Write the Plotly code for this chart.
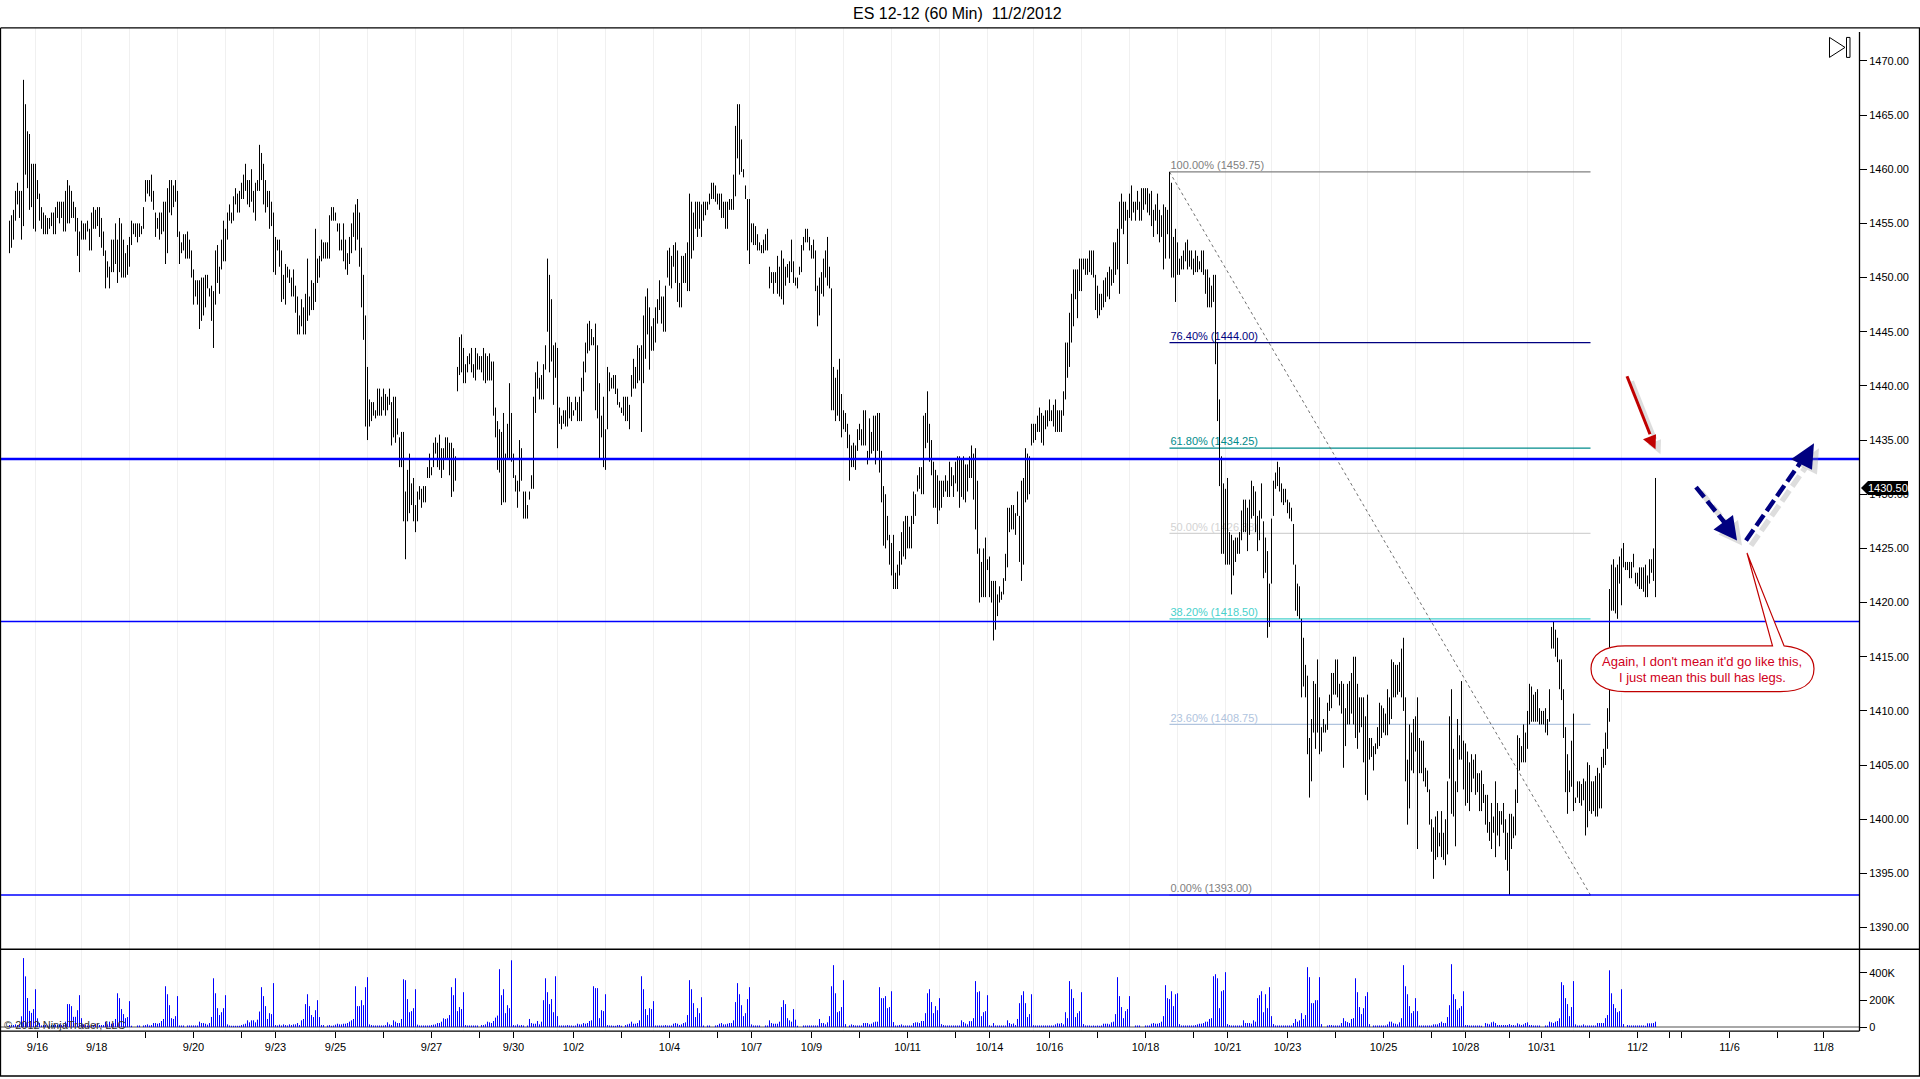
import plotly.graph_objects as go

# 60 minute bars in three stretches
start_a = 0
high_a = [1455.25,1455.75,1456.25,1458,1458.75,1458,1458,1468.25,1466,1463.5,1463.25,1460.5,
1460.5,1460.5,1459,1457.75,1456.5,1456,1455.75,1455.5,1455.5,1456,1456,1456.5,
1457,1457,1457,1457,1458,1459,1458.5,1458,1457,1456.5,1455.5,1454.25,
1455.25,1455,1455,1455.25,1454.5,1456,1456.5,1456.25,1456.5,1456.5,1455.5,1454.25,
1452.5,1451.5,1451,1453.5,1453.5,1455,1453.5,1455.5,1455,1453.5,1452.25,1453,
1453.75,1455.25,1455,1455,1455,1455,1454.75,1456.5,1459,1459,1459,1459.5,
1458,1456,1455.5,1456,1456,1457,1457,1458.25,1459,1459,1458.5,1459,1458,
1454.25,1453.25,1454,1454,1454.25,1453.5,1452.5,1450.75,1449.75,1449.75,1449.75,1450,
1450,1450.25,1450.25,1449,1449.25,1448.75,1452.5,1453,1451,1453.5,1455.25,1454.5,
1456,1456.75,1456,1457.5,1458.25,1457.75,1458,1458.75,1459.5,1460.5,1459,1459,
1460,1458,1458.75,1459,1462.25,1461.5,1460.5,1459,1458,1458,1457,1456,
1453.75,1453.5,1453.5,1452.5,1450.25,1451.25,1451,1450.75,1450,1450.75,1449.25,1448.25,
1446.5,1448,1447.25,1448.5,1451.75,1448.25,1449.75,1449.5,1454.5,1451.75,1452,1453.5,
1453.25,1453.25,1453.25,1455.75,1456.5,1456.5,1456,1455,1455,1453.5,1455,1453.5,
1452.25,1453.75,1455,1456,1456.75,1457.25,1456,1452.75,1450.25,1446.5,1441.75,1438.75,
1438.5,1438.5,1437.75,1439.75,1439.75,1439,1439.75,1439.25,1439,1439.75,1438.5,1439,
1439,1437,1435.25,1435.75,1435.75,1430.25,1432.25,1433.75,1431,1431.5,1429,1430.25,
1430.75,1430.5,1430.75,1430.75,1432.5,1433.75,1432.5,1434.75,1435.25,1434.75,1435.5,1434.25,1434.25,
1435.25,1435.25,1434.75,1434.75,1434.25,1433.5,1441.75,1444.5,1444.75,1443.5,1442,1442.75,
1443,1443.5,1442,1443.5,1443,1442.75,1442.75,1443.5,1443,1442.75,1443,1442.25,1442.25,
1438,1436.75,1436,1435.75,1437.5,1433.75,1436.5,1440.25,1437.5,1433.75,1431.75,1431.25,
1435,1434.25,1430.25,1430.25,1429,1430.25,1431.75,1439,1441.25,1442.25,1440.75,1441,
1442,1443.75,1451.75,1450.25,1448,1443.75,1444,1443.5,1438,1437.25,1437.75,1437.75,
1439,1439,1438.5,1437.75,1439,1438.5,1439,1440.75,1442.25,1444,1445.75,1446,
1445.25,1444.5,1445.75,1443.75,1440.25,1437.25,1439,1436,1441.75,1441.25,1440.75,1441,
1441,1439.75,1438.5,1438,1439,1439,1439,1438.25,1441,1442.5,1441.75,1443.75,1443.5]
low_a = [1452.25,1452.75,1453.5,1455.25,1456.75,1455.5,1453.5,1454.75,1459.5,1458.25,1456.25,1456.5,
1454.5,1454.25,1457.25,1455.25,1454.5,1454,1454,1454,1454.5,1454.75,1454,1454,
1455.5,1455,1455.5,1454.25,1454.25,1455,1455,1455.5,1455.5,1454.25,1452,1450.5,
1453.5,1453.5,1453.5,1454.25,1452.5,1452.5,1454.5,1454.5,1454.75,1453.75,1452.75,1452,
1449,1450,1449,1450.5,1450.5,1451.25,1449.5,1450.5,1450,1450,1450,1450.25,
1451,1453,1454,1453.75,1453.25,1453.75,1454,1454.5,1457,1457.75,1457.5,1457,
1456.25,1453.75,1454.5,1453.5,1454,1454.25,1451.25,1452.25,1456,1455.75,1456.5,1457,1453.75,
1451.25,1452.25,1452.5,1451.75,1451.75,1451.75,1450,1447.5,1448.25,1447.5,1445.25,1446,
1446.5,1447.25,1449,1448.25,1446,1443.5,1447.5,1449.5,1448.5,1450.75,1451.5,1451.5,
1453.5,1455.25,1455,1455.25,1456.75,1456,1456,1457.25,1457.25,1458,1456.75,1456.5,
1457,1456,1455.25,1458,1458,1459,1456.75,1456,1456.5,1454.5,1454.75,1450.5,
1450.25,1452.5,1451,1447.75,1448,1447.5,1450,1449.5,1448.25,1448.25,1446.75,1444.75,
1444.75,1445.5,1444.75,1444.75,1446,1446.5,1447,1447,1447.75,1449.5,1450,1451.5,
1451.75,1451.75,1451.75,1451.75,1455.25,1455.25,1455.25,1454.25,1452.5,1452.5,1451.5,1450.75,
1450.25,1451.25,1452.25,1453.75,1452.5,1453.5,1451,1447.25,1444.25,1436.25,1435,1436.25,
1436.75,1437.25,1437,1437.25,1437.25,1437.25,1437.75,1437.25,1437.75,1438.25,1434.5,1435.25,
1434.75,1435.5,1432.5,1432.5,1427.5,1424,1427.5,1428.25,1429,1427.5,1426.5,1427.5,
1429.5,1428.75,1429.25,1429.25,1431.5,1431.5,1431.75,1432.5,1433.75,1432.5,1432.25,1431.5,1432.25,
1433.25,1433.25,1431.75,1429.75,1430.25,1431.25,1439.5,1441,1441.25,1440.25,1440.25,1441.25,
1442,1441.25,1440.75,1440.5,1441.5,1441.5,1441.25,1440.5,1440.25,1440.5,1440.5,1440.5,1437.25,
1435.25,1432.25,1432,1429,1429.25,1429.25,1433.25,1433.25,1433,1431.5,1430.25,1428.75,
1430.25,1431.25,1427.75,1427.75,1427.75,1429.5,1430.5,1430.5,1437.5,1439.75,1438.75,1438.75,
1438.75,1441.5,1445,1441.25,1442.25,1438.25,1440.75,1434.25,1436.5,1436,1436.5,1436.25,
1436.25,1437,1436.75,1437.25,1437.75,1436.75,1436.75,1436.75,1439.5,1441.25,1443,1443.25,
1443.75,1443.75,1437.75,1437,1433.25,1435.25,1432.5,1432.25,1436,1439.5,1439.75,1439.75,
1439.25,1438.25,1438,1437.5,1437.25,1436.75,1436.75,1436,1439,1439.75,1439.75,1440.25,1440.5]

start_b = 316
high_b = [1443.75,1446.5,1448.25,1449,1447.25,1445.5,1446.25,1447.25,1448,1449.75,1448.25,1448.25,
1449.25,1452.5,1452.75,1452,1453,1453.25,1452.5,1449.5,1452,1452,1452.25,1453.25,
1457.75,1457,1456,1457,1457,1457,1456.75,1457,1457,1457,1457.75,1458.75,
1458.75,1458.5,1457.75,1457.75,1457.75,1457,1457,1457,1457.25,1457.25,1459.5,1464,
1466,1466,1462.75,1460,1458.5,1457.25,1457.25,1455,1455,1454.75,1454,1453.25,
1453,1453.5,1454,1454.5,1451,1450.5,1450.5,1450.5,1452,1451,1452.5,1451.75,
1451,1451.25,1451.5,1453.5,1451.5,1450,1450,1451,1453,1453.75,1454.5,1454.5,
1453.75,1453,1453.5,1452.5,1449.25,1450,1450.5,1451.75,1452.5,1453.75,1451,1449,
1441.75,1440.75,1441.5,1442.5,1439.25,1437.75,1437.5,1436.5,1435.5,1434.5,1434.75,1434.5,
1436,1436.5,1436,1437.75,1437.75,1434,1437,1435.75,1437.25,1437.25,1437.5,1437.5,
1434,1430.75,1430,1428,1426.25,1425.5,1426.25,1422.75,1423.5,1424.75,1426.5,1427.5,1428,
1428,1427,1428,1430.25,1430,1431.75,1432.5,1432.5,1437.25,1437.5,1439.5,1436.5,
1435,1433,1432.25,1431.75,1431.25,1431.25,1431.25,1431.75,1431.25,1433,1432.5,1431.75,
1433,1433.5,1433.5,1433.25,1433.5,1432.75,1432.75,1433.5,1434.5,1433.75,1434.25,1431.25,1425,
1423.75,1425,1426,1424,1424.25,1422,1422,1422,1420.75,1421.5,1421,1422.25,
1424.5,1428.75,1428.75,1429,1429,1428.25,1430.25,1428,1431.25,1431.5,1434.25,1433.75,
1433.5,1436.5,1436.5,1436.5,1437.25,1438,1437.5,1437.25,1437.75,1437.75,1438.75,1437.75,1438.25,
1438.75,1437.75,1437.75,1437.75,1439.5,1444,1444,1446.75,1448.5,1450.75,1450.75,1450.75,
1451.75,1451.75,1451.75,1451.75,1451.75,1452.5,1452.5,1452.5,1450.25,1449.25,1448.5,1448.5,
1449.75,1450,1450.5,1451,1450.75,1453.25,1453.25,1454.5,1457,1457.75,1457,1457,1456.25,
1457.75,1458.5,1457,1457,1458,1457,1458.25,1458.25,1458.25,1458.25,1457.75,1458,
1456.25,1456.75,1457.75,1456.25,1455.75,1456.75,1456.5,1456.25,1459.75,1458.75,1453.75,1454.5,
1453.25,1451.75,1452,1452.5,1453.25,1453.5,1452.5,1452.5,1451.75,1452.5,1452,1451.5,1452.5,
1452.5,1450.75,1450.75,1450,1449.25,1450.25,1450.25,1444,1438.75,1433.5,1431,1430.5,
1431.5,1426.5,1426.25,1425.75,1426,1426,1426.5,1428.5,1429.5,1429.5,1428.75,1429.5,1431.25,
1430.75,1430.25,1428,1428.5,1431,1427.5,1426,1424.75,1421.75,1427.75,1431.25,1432,
1433,1432.5]
low_b = [1435.75,1440.25,1442.5,1444.75,1441.5,1443.25,1443.25,1444,1445.75,1447,1445.75,1445,
1445,1450,1449.25,1449,1451,1449.5,1447.75,1447.25,1447.25,1449.5,1449.5,1448.75,
1448.75,1451.75,1452.5,1454.5,1453.75,1454.5,1453.75,1455.25,1455.75,1456.25,1456.75,1457.25,
1457.25,1457,1456.75,1456.25,1455.5,1455.5,1454.5,1454.5,1456.25,1456.25,1456.25,1457.5,
1461,1459.5,1459.75,1459.25,1457.25,1452.5,1451.25,1453.25,1453,1453,1452.5,1452.5,
1452.25,1452.25,1452.5,1452.5,1449,1449.5,1448.5,1449.5,1448.5,1448.25,1448,1447.5,
1449.25,1450,1449.5,1450.5,1449.5,1449.25,1449,1450.25,1450.5,1452.5,1453.25,1453.25,
1452.5,1451.75,1451.75,1448.75,1445.5,1446.5,1448.5,1448.25,1450,1449.25,1449,1437.75,
1437.75,1436.75,1437.25,1436.75,1435.25,1436,1435.75,1434.25,1431.25,1432.5,1432.5,1432.25,
1434,1435,1434.5,1434.5,1434.5,1432.75,1433.25,1433.75,1434,1432.75,1434,1432,
1429.25,1425.25,1425,1425.75,1423.5,1422.5,1421.25,1421.25,1421.25,1422.5,1423.5,1424.25,1424,
1425,1425,1425,1427.25,1428,1430.25,1430.5,1430,1430,1434.25,1434.75,1433,
1431.75,1428.75,1428.75,1427.25,1428.5,1428.75,1429.75,1430.25,1429.75,1429.75,1430.75,1429.75,
1431,1430.25,1428.75,1429.75,1429.5,1429.25,1430.25,1431.5,1431.5,1429.5,1426.75,1424.5,1420,
1420.5,1420.5,1420.5,1423,1420.5,1420,1416.5,1417.5,1418.75,1420,1420.25,1420.75,
1422,1423.25,1426.5,1426.75,1426.75,1426.25,1428,1423.75,1422,1423.5,1429.25,1429.5,
1430,1434.5,1434.75,1435,1435.75,1435.75,1434.75,1434.5,1436,1436.25,1436.75,1436.75,1436.25,
1435.75,1435.75,1435.75,1435.75,1437.25,1438.75,1440.75,1441.75,1444,1445.5,1448,1446.25,
1448.75,1448.75,1450.75,1450.25,1450.25,1450.5,1450.25,1450,1447,1446.25,1446.5,1447,
1447.25,1447.75,1448.25,1448,1449.25,1449.5,1450.25,1450.75,1448.5,1454.5,1454,1455.25,1451.25,
1455.5,1455.25,1456,1455.25,1456.25,1455.25,1455.25,1456.25,1456.75,1456,1455.75,1454.75,
1453.75,1455.25,1454,1453.25,1453.75,1450.75,1451.75,1454,1451.75,1450,1450,1447.75,
1450.25,1450.25,1450.75,1450.75,1451.5,1450.75,1451,1450.75,1450.25,1450.5,1450.5,1450.75,1450.5,
1450.25,1448.5,1447.25,1447.25,1447.25,1447.75,1442,1436.75,1430.75,1424.5,1424.5,1423.5,
1423.5,1423.5,1420.75,1422.5,1423.75,1424.5,1424.5,1425.75,1426.5,1426.5,1424.75,1426.25,1427.75,
1428,1426.5,1424.75,1425.75,1427.75,1422.25,1422.75,1416.75,1417.75,1421.75,1428,1430.5,
1430.75,1430.25]

start_c = 636
high_c = [1431,1430.5,1430.5,1429.5,1429.25,1428.75,1427.25,1423.5,1421.75,1421.5,1418.5,1416.75,
1414.25,1413.25,1407.5,1409.25,1412.75,1412.5,1414.75,1411.25,1408.5,1409.25,1408.75,1410.75,
1411.5,1413.5,1413.5,1414.75,1414.75,1412.5,1412.75,1412.5,1410.25,1412.5,1412.75,1413.5,
1415,1415,1412.5,1411.25,1411.25,1411.25,1409.5,1411.5,1407.5,1407.5,1406.75,1407,
1408.5,1410.75,1410.5,1410.25,1409.75,1412,1411.25,1414.75,1414.5,1414.25,1414.25,1414.5,1415.75,
1416.75,1411.25,1405.5,1408.75,1408,1409.25,1409.5,1411.25,1407.5,1407.25,1407.25,1404.75,
1404.5,1402.75,1400,1399.25,1400.25,1400.75,1398.75,1400.75,1398.75,1400,1403.5,1409.5,
1412,1406.5,1403.5,1409.25,1407.75,1412.75,1407.25,1407,1406.25,1405.25,1406,1405.5,1406,
1404.25,1404.25,1404.5,1403.25,1402.25,1402.25,1399.75,1401.5,1400.25,1403.5,1401.5,1400.75,
1400.75,1401.5,1400,1398.75,1400.5,1400.5,1400.25,1402.75,1407.75,1407.5,1406.75,1408.75,
1408,1410,1412.5,1412.25,1411.5,1411.75,1412,1410.25,1410,1410,1410.25,1409.25,1412,
1417.75,1418.25,1417.5,1416.75,1414.75,1414.75,1412,1408.5,1406,1404.5,1407.25,1409.75,
1402,1403.5,1403.5,1403.25,1403.75,1403.5,1405.25,1405,1403.5,1403.5,1404,1404.75,
1404.25,1405.75,1406.5,1408,1410.25,1421.25,1423.5,1424,1423.25,1423.5,1424.25,1425,
1425.5,1423.75,1423.75,1423.75,1423.75,1424.5,1422.75,1422.75,1423.25,1423.25,1423.25,1423.5,
1422.5,1424,1424,1425,1431.5]
low_c = [1429.25,1429,1429.25,1428.25,1427.75,1427.5,1423.5,1419.25,1418.75,1418.5,1411.25,1412.25,
1411.25,1406,1402,1403.5,1408,1406.5,1408,1406,1406.25,1408,1408,1408.25,
1410,1410.25,1411.5,1411.5,1411.25,1410.5,1409.75,1404.75,1406.75,1408.75,1408.75,1409.75,
1408.75,1407.5,1406.5,1408,1408.5,1405.25,1402.25,1401.75,1405.5,1405.75,1404.5,1406,
1406.5,1406.75,1407.5,1408,1407.75,1407.75,1408.75,1409.25,1411.25,1411.25,1411.5,1411.75,1411.25,
1410,1403.5,1399.5,1401,1404.5,1404.25,1406.25,1397.25,1404.25,1404.25,1403.5,1403,
1402.5,1399.5,1397,1394.5,1396.25,1396.5,1397.5,1396.5,1396.25,1395.75,1396.75,1403.75,
1400.5,1400.25,1397.5,1402.5,1405.5,1405.5,1402.75,1401.25,1401.5,1400.75,1402.5,1403.75,1402.25,
1402.5,1400.75,1400.75,1401.5,1399.5,1398.75,1398,1397.25,1398.75,1396.5,1398.5,1397.5,
1399.5,1398.75,1396.25,1395.25,1393,1397.25,1398.25,1398.5,1401.5,1404.5,1405.25,1405.25,
1405.25,1406.5,1408.75,1409,1409,1409,1409,1408.75,1408.75,1408.75,1408,1407.75,1409,
1415.75,1415.75,1415,1414.5,1412,1411,1407.5,1402.5,1400.5,1402.5,1403,1400.75,
1401.5,1402,1401.5,1401.25,1401.75,1398.5,1399.25,1400.75,1400.5,1400.75,1400.25,1400.25,
1401,1401,1404.75,1405,1406.5,1409,1419.25,1419.25,1419,1418.5,1421.75,1419.75,
1423.25,1423,1423,1422.25,1422.25,1423.25,1421.75,1421.5,1421.25,1421.25,1421,1420.5,
1420.5,1421.75,1422.75,1422,1420.5]

# volume per bar in thousands of contracts
vol_a = [15,15,15,20,15,20,80,510,375,215,120,105,133,280,65,30,
12,15,15,12,20,15,15,18,15,20,15,20,40,
170,170,155,76,76,125,236,66,
20,15,12,12,12,15,25,25,15,15,15,40,20,40,25,30,60,
250,214,133,96,66,74,192,10,
0,0,12,12,0,12,15,20,12,15,30,30,25,30,45,60,
302,243,162,66,60,81,229,12,
12,12,0,12,12,12,12,12,12,40,30,30,25,18,30,75,
361,250,140,89,110,140,236,20,
12,10,10,10,10,10,15,20,25,50,35,50,50,35,55,115,
295,229,155,60,103,96,325,15,
12,18,12,20,15,12,20,15,20,20,30,15,50,60,
170,243,155,89,74,125,199,74,
15,15,0,12,15,10,12,18,25,20,20,25,25,30,40,50,60,
302,155,155,199,162,295,369,20,
15,12,12,12,12,12,12,15,35,20,15,50,40,30,30,60,
354,347,207,110,118,140,280,18,
12,12,12,12,12,12,15,18,20,30,30,40,65,60,65,89,
295,236,361,118,148,133,258,15,
12,12,12,12,12,12,0,15,15,20,40,35,30,45,70,85,
428,236,280,103,162,140,494,15,
12,20,12,15,12,0,12,60,30,25,25,45,20,40,199,
361,258,170,207,110,376,81,
12,12,12,12,15,12,12,10,12,25,20,20,30,25,30,45,50,
302,288,288,66,125,118,243,15,
12,12,10,10,15,15,10,0,15,20,25,40,25,25,30,50]
vol_b = [376,280,133,89,140,133,192,12,12,12,12,12,15,12,12,12,25,30,25,15,20,30,35,89,
347,280,177,74,140,103,221,12,0,12,12,0,0,12,15,25,30,20,20,25,30,30,50,
185,325,243,162,81,103,207,295,20,12,12,12,12,0,0,12,12,50,30,25,25,25,40,
148,199,170,66,50,40,133,55,10,0,0,12,12,12,12,12,12,12,12,
60,30,30,20,35,81,302,458,250,110,118,148,347,22,
0,12,20,15,12,12,12,12,30,30,30,20,25,35,40,40,
295,214,214,229,140,148,265,37,12,12,15,20,12,12,12,12,12,30,35,35,30,45,45,
103,250,280,185,103,155,125,214,22,15,12,12,12,12,12,12,12,12,
50,37,27,20,44,44,66,340,258,265,81,110,118,236,14,10,30,12,12,12,12,12,12,
50,30,22,27,15,60,177,236,265,177,74,96,243,14,
12,12,12,12,12,12,12,12,12,12,20,28,25,30,20,110,66,340,280,214,74,103,118,258,22,12,
12,12,10,12,10,12,10,12,25,25,25,20,35,40,96,369,229,148,66,118,133,229,
0,0,12,12,12,0,0,12,12,12,25,30,25,25,30,40,81,310,214,207,265,155,243,250,22,
12,12,12,12,12,12,12,15,20,25,25,30,40,40,60,66,376,391,361,140,265,273,406,22,15,
12,12,12,12,12,12,50,30,30,30,25,50,40,214,236,265,110,243,140,295,81,22,12,12,12]
vol_c = [12,12,12,12,12,12,30,60,40,50,103,60,89,443,369,177,177,199,199,369,22,
0,0,12,15,15,12,12,12,12,30,66,44,37,30,60,66,361,258,148,96,140,229,258,22,
0,12,12,12,12,12,12,12,20,40,40,28,25,20,35,66,458,302,243,155,103,118,214,118,
12,12,12,12,12,12,12,20,20,20,30,40,30,30,74,162,465,243,207,128,140,155,265,15,15,
12,12,12,12,12,12,10,0,30,25,20,35,40,30,15,15,15,15,15,15,22,15,15,12,28,20,15,20,30,35,15,15,
12,12,12,12,0,0,12,12,40,35,30,40,45,65,332,310,214,170,81,148,340,20,12,12,12,20,
12,12,12,12,12,12,30,30,30,30,66,89,420,250,170,140,110,118,280,22,0,15,
12,12,12,12,12,12,12,12,10,28,28,28,30,40]

# x axis, bar numbers of the ticks and the labels under them
tick_bars = [14,68,92,116,133,163,187,211,235,252,282,306,330,354,371,401,425,449,473,490,
             520,544,568,592,609,639,663,687,711,728,750,766,790,814,830,836,860,884,907]
tick_text = ['9/16','','9/20','','9/23','9/25','','9/27','','9/30','10/2','','10/4','','10/7','10/9','','10/11','','10/14',
             '10/16','','10/18','','10/21','10/23','','10/25','','10/28','','10/31','','11/2','','','11/6','','11/8']
grid_bars = [13,36,60,84,108,132,155,179,203,227,251,274,298,322,346,370,393,417,441,465,
             489,512,536,560,584,608,631,655,679,703,727,759,782,806]

# fib retracement drawn on the chart
fib_labels = ['100.00% (1459.75)','76.40% (1444.00)','61.80% (1434.25)','50.00% (1426.38)',
              '38.20% (1418.50)','23.60% (1408.75)','0.00% (1393.00)']
fib_levels = [1459.75,1444,1434.25,1426.38,1418.5,1408.75,1393]
fib_colors = ['#808080','#000080','#008b8b','#d3d3d3','#48d1cc','#b0c4de','#808080']
fib_from = 580
fib_to = 790.5

blue_levels = [1433.25,1418.25,1393]
blue_widths = [2.5,1.5,1.5]

W, H = 1920, 1079
FONT = 'Liberation Sans'


def px(x):
    return x / W


def py(y):
    return 1 - y / H


def path_of(points):
    # points are pixel positions, strings are path commands
    out = []
    for p in points:
        if isinstance(p, str):
            out.append(p)
        else:
            out.append('%.5f,%.5f' % (px(p[0]), py(p[1])))
    return ' '.join(out)


def line_shape(x0, y0, x1, y1, color='black', width=1, dash='solid', opacity=1):
    return dict(type='line', xref='paper', yref='paper', x0=px(x0), y0=py(y0), x1=px(x1), y1=py(y1),
                line=dict(color=color, width=width, dash=dash), opacity=opacity)


def poly_shape(points, fill, line='rgba(0,0,0,0)', width=0, opacity=1):
    return dict(type='path', xref='paper', yref='paper', path=path_of(points), fillcolor=fill,
                line=dict(color=line, width=width), opacity=opacity)


def arrow(start, neck, tip, c1, c2, color, width, dash='solid'):
    # soft shadow first, a few pixels down and right
    s = 5
    res = [line_shape(start[0]+s, start[1]+s, neck[0]+s, neck[1]+s, '#909090', width + 1, dash, 0.3),
           poly_shape(['M', (tip[0]+s, tip[1]+s), 'L', (c1[0]+s, c1[1]+s), 'L', (c2[0]+s, c2[1]+s), 'Z'], '#909090', opacity=0.3),
           line_shape(start[0], start[1], neck[0], neck[1], color, width, dash),
           poly_shape(['M', tip, 'L', c1, 'L', c2, 'Z'], color)]
    return res


fig = go.Figure()

for lab, lev, col in zip(fib_labels, fib_levels, fib_colors):
    fig.add_trace(go.Scatter(x=[fib_from, fib_to], y=[lev, lev], mode='lines',
                             line=dict(color=col, width=1.2), hoverinfo='skip'))
    fig.add_trace(go.Scatter(x=[fib_from + 0.5], y=[lev], mode='text', text=[lab], textposition='top right',
                             textfont=dict(family=FONT, size=11, color=col), hoverinfo='skip'))
fig.add_trace(go.Scatter(x=[fib_from, fib_to], y=[fib_levels[0], fib_levels[-1]], mode='lines',
                         line=dict(color='#707070', width=1, dash='dot'), hoverinfo='skip'))

# price bars, one vertical stroke per hour
bar_x, bar_y = [], []
for start, highs, lows in [(start_a, high_a, low_a), (start_b, high_b, low_b), (start_c, high_c, low_c)]:
    for i, (h, l) in enumerate(zip(highs, lows)):
        bar_x += [start + i, start + i, None]
        bar_y += [l, h, None]
fig.add_trace(go.Scatter(x=bar_x, y=bar_y, mode='lines', line=dict(color='black', width=1), hoverinfo='skip'))

for lev, wid in zip(blue_levels, blue_widths):
    fig.add_trace(go.Scatter(x=[-5, 925], y=[lev, lev], mode='lines', line=dict(color='#0000ff', width=wid), hoverinfo='skip'))

# volume strokes from zero, same way as the price bars
vol_x, vol_y = [], []
for start, vols in [(start_a, vol_a), (start_b, vol_b), (start_c, vol_c)]:
    for i, v in enumerate(vols):
        vol_x += [start + i, start + i, None]
        vol_y += [0, v * 1000, None]
fig.add_trace(go.Scatter(x=vol_x, y=vol_y, mode='lines', line=dict(color='#0000ff', width=1),
                         xaxis='x2', yaxis='y2', hoverinfo='skip'))

shapes = [
    # outer frame and panel rules
    line_shape(0.5, 28, 1920, 28, width=1.3),
    line_shape(0.5, 28, 0.5, 1078, width=1.3),
    line_shape(1919.5, 28, 1919.5, 1078, width=1.3),
    line_shape(0, 1078, 1920, 1078, width=1.3),
    line_shape(0, 951, 1920, 951, width=1.3),
    line_shape(0, 1033, 1859.5, 1033, width=1.3),
    line_shape(1859.5, 32, 1859.5, 1033, width=1.3),
    # go to end button
    poly_shape(['M', (1829.5, 37.5), 'L', (1845, 47.5), 'L', (1829.5, 57.5), 'Z'], 'white', 'black', 1),
    poly_shape(['M', (1846.5, 37.5), 'L', (1850, 37.5), 'L', (1850, 57.5), 'L', (1846.5, 57.5), 'Z'], 'white', 'black', 1),
    # last price tag
    poly_shape(['M', (1861, 489), 'L', (1868, 482), 'L', (1908, 482), 'L', (1908, 496), 'L', (1868, 496), 'Z'], 'black'),
]
shapes += arrow((1627, 377), (1650, 435), (1655.5, 450), (1643, 440), (1656, 435), '#c00000', 3)
shapes += arrow((1696, 488), (1725, 524), (1737, 541.5), (1713.5, 530.5), (1733, 516), '#000080', 4.5, '13px,5px')
shapes += arrow((1746, 541.5), (1800, 464), (1814, 444), (1791, 460), (1812, 470.5), '#000080', 4.5, '13px,5px')
# speech bubble
shapes.append(poly_shape(['M', (1591, 670), 'C', (1591, 655), (1605, 647), (1625, 647), 'L', (1772.5, 647), 'L', (1747, 554),
                          'L', (1784, 647), 'C', (1802, 649), (1814, 655), (1814, 670), 'C', (1814, 685), (1802, 693), (1780, 693),
                          'L', (1625, 693), 'C', (1605, 693), (1591, 685), (1591, 670), 'Z'], 'white', '#c00000', 1.2))


def note(text, x, y, size=11, color='black', anchor='center'):
    return dict(text=text, xref='paper', yref='paper', x=px(x), y=py(y), xanchor=anchor, yanchor='middle',
                showarrow=False, font=dict(family=FONT, size=size, color=color), borderpad=0)


annotations = [
    note('ES 12-12 (60 Min)\u00a0\u00a011/2/2012', 957, 13.5, size=16),
    note('\u00a9 2012 NinjaTrader, LLC', 3, 1027, size=11, color='#303030', anchor='left'),
    note('Again, I don\'t mean it\'d go like this,', 1702, 663, size=13, color='#d00020'),
    note('I just mean this bull has legs.', 1702, 679, size=13, color='#d00020'),
    note('1430.50', 1888, 489, size=11, color='white'),
    note('9/18', 96, 1048.5, size=11),
]

minor_grid = dict(tickmode='array', tickvals=grid_bars, showgrid=True, gridcolor='#f0f0f0', gridwidth=1, ticks='')
x_range = [-4.75, 924.75]
x_dom = [0, 1859 / W]

fig.update_layout(
    width=W, height=H, margin=dict(l=0, r=0, t=0, b=0), autosize=False, showlegend=False,
    paper_bgcolor='white', plot_bgcolor='white',
    font=dict(family=FONT, size=11, color='black'),
    xaxis=dict(domain=x_dom, range=x_range, anchor='y', showgrid=False, zeroline=False, showticklabels=False,
               ticks='', showline=False, minor=minor_grid),
    yaxis=dict(domain=[1 - 951 / H, 1 - 28 / H], range=[1388.0, 1473.04], anchor='x', side='right', showgrid=False,
               zeroline=False, showline=False, tickmode='array', tickvals=list(range(1390, 1471, 5)),
               ticktext=['%d.00' % v for v in range(1390, 1471, 5)], ticks='outside', ticklen=7, tickcolor='black',
               tickfont=dict(family=FONT, size=11)),
    xaxis2=dict(domain=x_dom, range=x_range, anchor='y2', showgrid=False, zeroline=False, showline=False,
                tickmode='array', tickvals=tick_bars, ticktext=tick_text, ticks='outside', ticklen=6, tickcolor='black',
                tickangle=0, tickfont=dict(family=FONT, size=11), minor=minor_grid),
    yaxis2=dict(domain=[1 - 1033 / H, 1 - 951 / H], range=[-29500, 575600], anchor='x2', side='right', showgrid=False,
                zeroline=True, zerolinecolor='#a8a8a8', zerolinewidth=1.5, showline=False, tickmode='array',
                tickvals=[0, 200000, 400000], ticktext=['0', '200K', '400K'], ticks='outside', ticklen=7,
                tickcolor='black', tickfont=dict(family=FONT, size=11)),
    shapes=shapes, annotations=annotations,
)

fig.write_html('out.html', config=dict(displayModeBar=False),
               post_script="document.body.style.margin='0';document.body.style.overflow='hidden';")
